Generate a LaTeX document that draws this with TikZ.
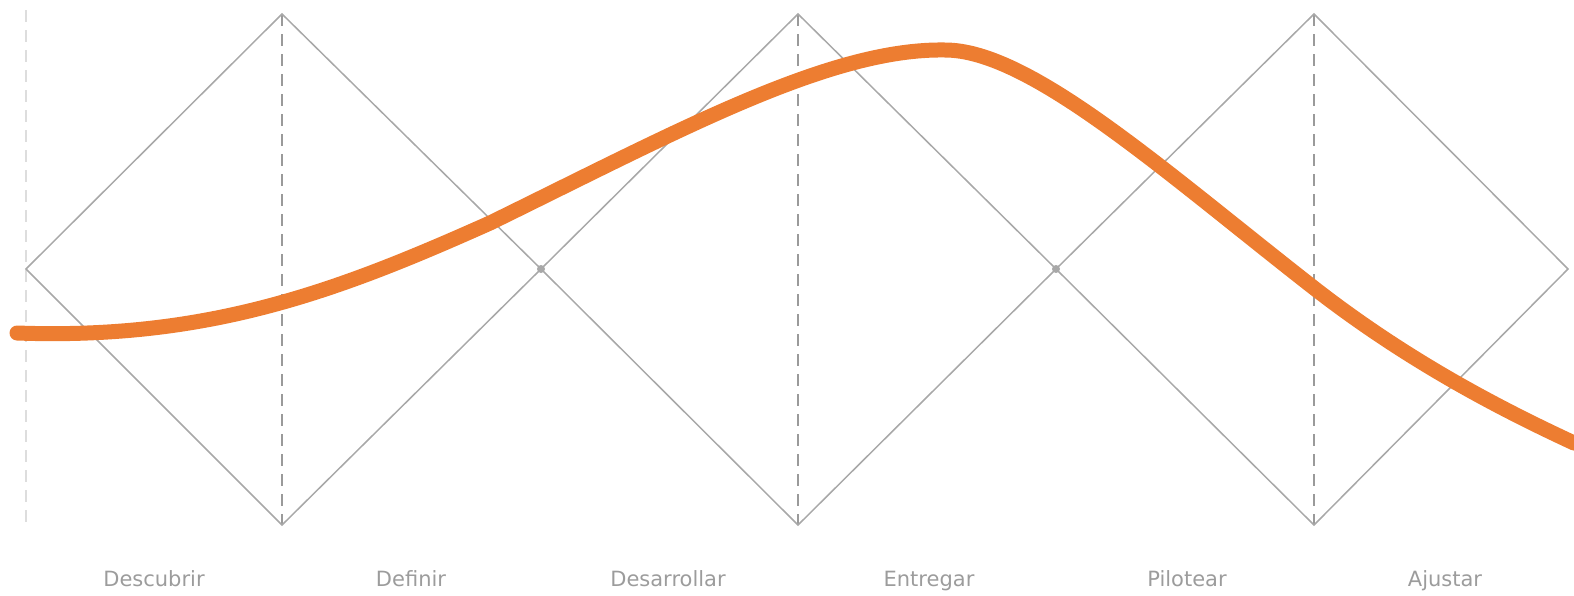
\documentclass[tikz,border=0pt]{standalone}
\usepackage{fontspec}
\setmainfont{DejaVu Sans}
\definecolor{linegray}{HTML}{A8A8A8}
\definecolor{dashgray}{HTML}{9A9A9A}
\definecolor{palegray}{HTML}{DDDDDD}
\definecolor{labelgray}{HTML}{9C9C9C}
\definecolor{curveorange}{HTML}{ED7D31}

\begin{document}
\begin{tikzpicture}[x=0.5pt,y=-0.5pt,every node/.style={font=\fontsize{10.5}{12}\selectfont,text=labelgray,anchor=base}]
  \useasboundingbox (0,0) rectangle (1574,595);

  \coordinate (L) at (26,269);
  \coordinate (T1) at (282,14);
  \coordinate (B1) at (282,525);
  \coordinate (M1) at (541,269);
  \coordinate (T2) at (798,14);
  \coordinate (B2) at (798,525);
  \coordinate (M2) at (1056,269);
  \coordinate (T3) at (1314,14);
  \coordinate (B3) at (1314,525);
  \coordinate (R) at (1568,269);

  % phase separators
  \draw[palegray,line width=0.7pt,dash pattern=on 6pt off 4pt] (26,10) -- (26,525);
  \draw[dashgray,line width=0.7pt,dash pattern=on 6pt off 4pt] (T1) -- (B1);
  \draw[dashgray,line width=0.7pt,dash pattern=on 6pt off 4pt] (T2) -- (B2);
  \draw[dashgray,line width=0.7pt,dash pattern=on 6pt off 4pt] (T3) -- (B3);

  % diamonds
  \draw[linegray,line width=0.75pt,line join=miter] (L) -- (T1) -- (M1) -- (B1) -- cycle;
  \draw[linegray,line width=0.75pt,line join=miter] (M1) -- (T2) -- (M2) -- (B2) -- cycle;
  \draw[linegray,line width=0.75pt,line join=miter] (M2) -- (T3) -- (R) -- (B3) -- cycle;
  \fill[linegray] (M1) circle[radius=2pt];
  \fill[linegray] (M2) circle[radius=2pt];

  % curve
  \coordinate (start) at (17,333);
  \coordinate (rise) at (490,223);
  \coordinate (peak) at (945,50);
  \coordinate (fall) at (1314,288);
  \coordinate (end) at (1574,443);
  \draw[curveorange,line width=7.5pt,line cap=round]
    (start) .. controls (210,340) and (340,290) .. (rise)
            .. controls (680,130) and (830,48) .. (peak)
            .. controls (1030,50) and (1164,171) .. (fall)
            .. controls (1404,358) and (1494,406) .. (end);

  % labels
  \node (descubrir) at (154,586) {Descubrir};
  \node (definir) at (411,586) {Definir};
  \node (desarrollar) at (668,586) {Desarrollar};
  \node (entregar) at (929,586) {Entregar};
  \node (pilotear) at (1187,586) {Pilotear};
  \node (ajustar) at (1445,586) {Ajustar};
\end{tikzpicture}
\end{document}
